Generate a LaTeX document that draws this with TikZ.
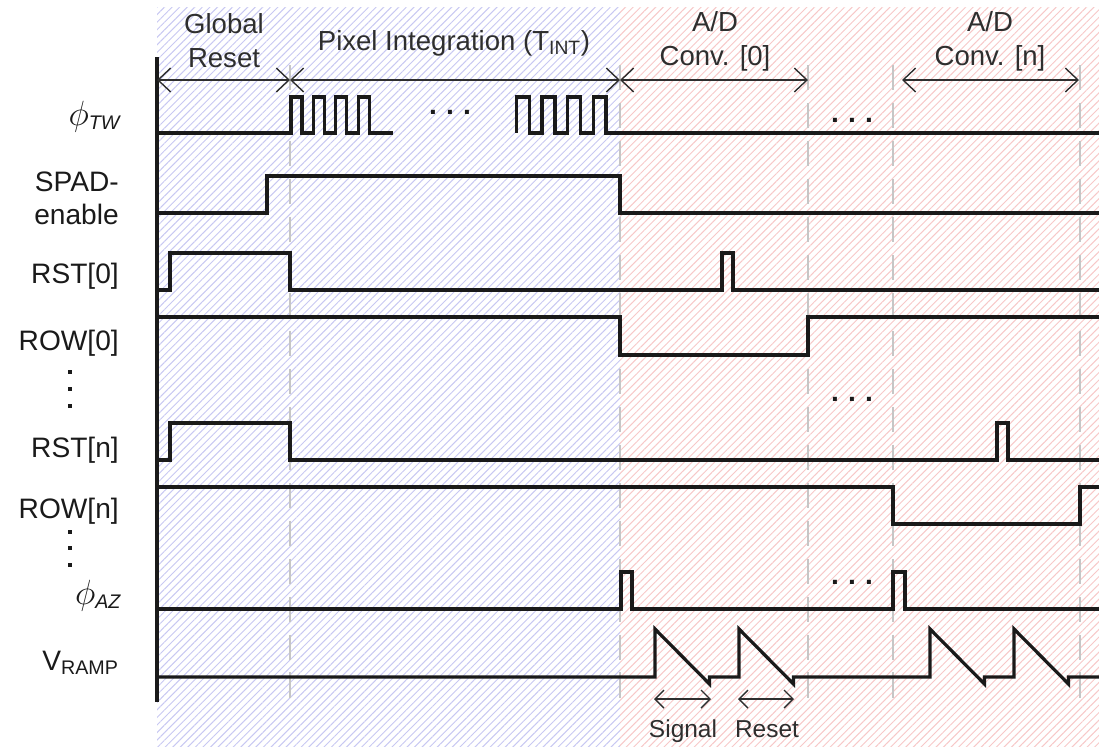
\documentclass[tikz,border=0pt]{standalone}
\usepackage{fontspec}
\setmainfont{Liberation Sans}
\usepackage{tikz}
\usetikzlibrary{arrows.meta, patterns.meta}
\definecolor{rayaInt}{HTML}{C8C8F2}
\definecolor{rayaConv}{HTML}{F7C8C8}
\definecolor{guiaGris}{HTML}{C6C6C6}
\definecolor{trazo}{HTML}{1A1A1A}
\definecolor{flecha}{HTML}{2E2E2E}
\newcommand{\tres}{\bfseries.\hspace{0.33em}.\hspace{0.33em}.}
\newcommand{\fase}[1]{{\fontsize{26}{26}\selectfont$\phi$}\textsubscript{\textit{#1}}}

\begin{document}
\begin{tikzpicture}[x=0.025cm, y=-0.025cm, font=\fontsize{20}{23.5}\selectfont,
        sig/.style={line width=2.3pt, trazo},
        guia/.style={line width=2.1pt, guiaGris, dash pattern=on 17.8pt off 9.2pt},
        span/.style={{Straight Barb[length=9pt,width=17pt]}-{Straight Barb[length=9pt,width=17pt]}, line width=1pt, flecha},
        spanS/.style={{Straight Barb[length=6.4pt,width=12.8pt]}-{Straight Barb[length=6.4pt,width=12.8pt]}, line width=1pt, flecha},
        lbl/.style={anchor=base east, inner sep=0pt, trazo},
        tramo/.style={align=center, inner sep=0pt, font=\fontsize{19.6}{24.2}\selectfont, flecha},
        puntos/.style={inner sep=0pt, trazo}]
  \useasboundingbox (0,0) rectangle (1099,746);
  \fill[pattern={Lines[angle=45,distance=3.8pt,line width=0.7pt]}, pattern color=rayaInt] (157,7) rectangle (620,746);
  \fill[pattern={Lines[angle=45,distance=3.8pt,line width=0.7pt]}, pattern color=rayaConv] (620,7) rectangle (1099,746);
  \foreach \x in {290,620,808,893,1080} \draw[guia] (\x,65) -- (\x,702);
  \draw[line width=2.3pt, trazo] (157,57) -- (157,702);

  \foreach \n/\x in {a/157,b/290,c/620,d/808,e/902,f/1079} \coordinate (\n) at (\x,80);
  \draw[span] (a) -- (b);
  \draw[span] (b) -- (c);
  \draw[span] (c) -- (d);
  \draw[span] (e) -- (f);
  \node[tramo] (gr)  at (224,41) {Global\\Reset};
  \node[tramo] (pi)  at (454,43) {Pixel Integration (T\textsubscript{INT})};
  \node[tramo] (ad0) at (715,41) {A/D\\Conv. [0]};
  \node[tramo] (adn) at (990,41) {A/D\\Conv. [n]};

  \node[lbl] (lTW)   at (122,125) {\fase{TW}};
  \node[lbl, anchor=east, align=right] (lSPAD) at (119,198.5) {SPAD-\\enable};
  \node[lbl] (lRST0) at (119,283) {RST[0]};
  \node[lbl] (lROW0) at (119,350) {ROW[0]};
  \node[lbl] (lRSTn) at (119,457) {RST[n]};
  \node[lbl] (lROWn) at (119,518) {ROW[n]};
  \node[lbl] (lAZ)   at (122,604) {\fase{AZ}};
  \node[lbl] (lRAMP) at (119,670) {V\textsubscript{RAMP}};
  \foreach \y in {372,389,406,532,548,565} \fill[trazo] (68,\y-2) rectangle ++(4,4);

  \draw[sig] (157,133) -- (291,133) foreach \k in {0,...,3}{ -- ++(0,-36) -- ++(11,0) -- ++(0,36) -- ++(11.4,0)} -- (393,133);
  \draw[sig] (516.5,133) foreach \k in {0,...,3}{ -- ++(0,-36) -- ++(12.8,0) -- ++(0,36) -- ++(12.8,0)};
  \draw[sig] (606,133) -- (1099,133);
  \node[puntos] (d1) at (450,112) {\tres};
  \node[puntos] (d2) at (852,120) {\tres};
  \draw[sig] (157,213) -- (267,213) -- (267,176) -- (620,176) -- (620,213) -- (1099,213);
  \draw[sig] (157,290) -- (170,290) -- (170,253) -- (290,253) -- (290,290) -- (722,290) -- (722,253) -- (733,253) -- (733,290) -- (1099,290);
  \draw[sig] (157,317) -- (620,317) -- (620,355) -- (808,355) -- (808,317) -- (1099,317);
  \node[puntos] (d3) at (852,399) {\tres};
  \draw[sig] (157,460) -- (170,460) -- (170,423) -- (290,423) -- (290,460) -- (997,460) -- (997,423) -- (1008,423) -- (1008,460) -- (1099,460);
  \draw[sig] (157,487) -- (893,487) -- (893,524) -- (1080,524) -- (1080,487) -- (1099,487);
  \node[puntos] (d4) at (852,582) {\tres};
  \draw[sig] (157,609) -- (621,609) -- (621,572) -- (632,572) -- (632,609) -- (893,609) -- (893,572) -- (905,572) -- (905,609) -- (1099,609);
  \draw[sig] (157,677) foreach \r in {655,739,930,1014}{ -- (\r,677) -- ++(0,-48) -- ++(54.5,55) -- ++(0,-7)} -- (1099,677);

  \coordinate (s0) at (654,699);
  \coordinate (s1) at (711,699);
  \coordinate (r0) at (738,699);
  \coordinate (r1) at (794,699);
  \draw[spanS] (s0) -- (s1);
  \draw[spanS] (r0) -- (r1);
  \node[tramo, anchor=base, font=\fontsize{17.4}{20}\selectfont] (sg) at (683,737) {Signal};
  \node[tramo, anchor=base, font=\fontsize{17.4}{20}\selectfont] (rs) at (767,737) {Reset};
\end{tikzpicture}
\end{document}
